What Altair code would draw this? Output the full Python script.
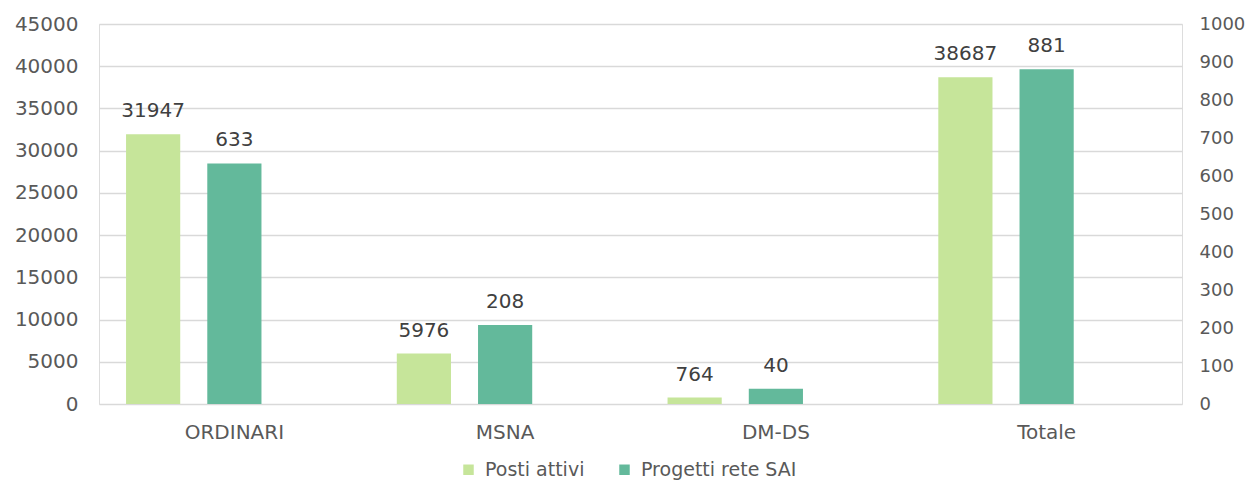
import altair as alt
import pandas as pd

categories = ["ORDINARI", "MSNA", "DM-DS", "Totale"]
posti_attivi = [31947, 5976, 764, 38687]
progetti_sai = [633, 208, 40, 881]
series = ["Posti attivi", "Progetti rete SAI"]
colors = ["#c6e59a", "#63b99b"]
offset_slots = ["Posti attivi", "Progetti rete SAI", "_vuoto"]

df_left = pd.DataFrame({"cat": categories, "serie": series[0], "val": posti_attivi})
df_right = pd.DataFrame({"cat": categories, "serie": series[1], "val": progetti_sai})

FONT = "DejaVu Sans"
FS = 20

x_enc = alt.X("cat:N", sort=categories, title=None,
              scale=alt.Scale(paddingInner=0, paddingOuter=0),
              axis=alt.Axis(labelAngle=0, ticks=False, domain=False, labelPadding=18,
                            labelFontSize=FS, labelColor="#595959", labelFont=FONT))
xoff = alt.XOffset("serie:N", scale=alt.Scale(domain=offset_slots, paddingInner=0.333, paddingOuter=0.333))
color_enc = alt.Color("serie:N", scale=alt.Scale(domain=series, range=colors), title=None,
                      legend=alt.Legend(orient="none", direction="horizontal", legendX=360, legendY=436,
                                        symbolType="square", symbolSize=110, symbolStrokeWidth=0,
                                        labelFontSize=19, labelColor="#595959", labelFont=FONT,
                                        labelLimit=0, columnPadding=30, labelOffset=7))

yl = alt.Y("val:Q", title=None,
           scale=alt.Scale(domain=[0, 45000], nice=False),
           axis=alt.Axis(orient="left", values=list(range(0, 45001, 5000)), format="d",
                         grid=True, gridColor="#d9d9d9", gridWidth=1.3, ticks=False, domain=False,
                         labelOverlap=False,
                         labelPadding=21, labelFontSize=FS, labelColor="#595959", labelFont=FONT))
yr = alt.Y("val:Q", title=None,
           scale=alt.Scale(domain=[0, 1000], nice=False),
           axis=alt.Axis(orient="right", values=list(range(0, 1001, 100)), format="d",
                         grid=False, ticks=False, domain=False, labelOverlap=False,
                         labelPadding=17, labelFontSize=18, labelColor="#595959", labelFont=FONT))

label_style = dict(baseline="alphabetic", dy=-17, fontSize=FS, font=FONT, color="#404040")

base_l = alt.Chart(df_left)
bars_l = base_l.mark_bar().encode(x=x_enc, xOffset=xoff, y=yl, color=color_enc)
text_l = base_l.mark_text(**label_style).encode(
    x=x_enc, xOffset=xoff, y=yl, text=alt.Text("val:Q", format="d"))
left = alt.layer(bars_l, text_l)

base_r = alt.Chart(df_right)
bars_r = base_r.mark_bar().encode(x=x_enc, xOffset=xoff, y=yr, color=color_enc)
text_r = base_r.mark_text(**label_style).encode(
    x=x_enc, xOffset=xoff, y=yr, text=alt.Text("val:Q", format="d"))
right = alt.layer(bars_r, text_r)

chart = alt.layer(left, right).resolve_scale(y="independent").properties(
    width=1083, height=380,
    autosize=alt.AutoSizeParams(type="none"),
    padding={"left": 91, "top": 16, "right": 64, "bottom": 81},
).configure_view(stroke=None, strokeWidth=0).configure(background="white")

chart.save("out.html", embed_options={"renderer": "svg", "actions": False})
